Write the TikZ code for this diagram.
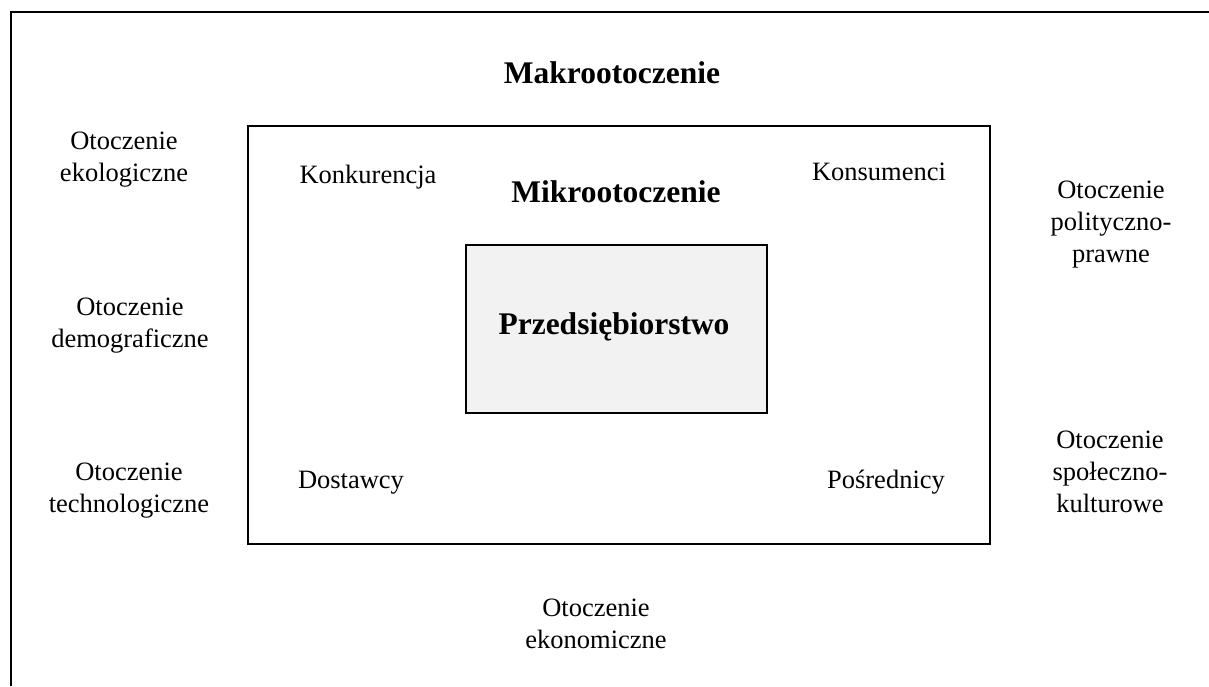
\documentclass[tikz,border=0pt]{standalone}
\usepackage{fontspec}
\setmainfont{Liberation Serif}
\begin{document}
\begin{tikzpicture}[x=1pt,y=-1pt,
  lbl/.style={align=center,inner sep=0pt,font=\fontsize{26.5}{32}\selectfont},
  ttl/.style={inner sep=0pt,font=\fontsize{31.5}{38}\selectfont\bfseries},
  frame/.style={line width=2pt},
  firm/.style={draw,line width=1.6pt,fill=black!5}]
\useasboundingbox (0,0) rectangle (1209,686);
% outer frame (top and left edges)
\coordinate (fa) at (11,686);
\coordinate (fb) at (11,12);
\coordinate (fc) at (1209,12);
\draw[frame] (fa) -- (fb) -- (fc);
% micro-environment box
\node[draw,frame,minimum width=742pt,minimum height=418pt,inner sep=0pt] (micro) at (619,335) {};
% company box
\node[firm,minimum width=301pt,minimum height=168pt,inner sep=0pt] (firm) at (616.5,329) {};
\node[ttl] (firmlbl) at (614,327) {Przedsiębiorstwo};
\node[ttl] (makro) at (612,73) {Makrootoczenie};
\node[ttl] (mikro) at (616,192) {Mikrootoczenie};
% micro-environment actors
\node[lbl] (konk) at (368,177) {Konkurencja};
\node[lbl] (kons) at (879,172) {Konsumenci};
\node[lbl] (dost) at (351,483) {Dostawcy};
\node[lbl] (posr) at (886,482) {Pośrednicy};
% macro-environment factors
\node[lbl] (ekol) at (124,160) {Otoczenie\\ekologiczne};
\node[lbl] (demo) at (130,326) {Otoczenie\\demograficzne};
\node[lbl] (tech) at (129,491) {Otoczenie\\technologiczne};
\node[lbl] (poli) at (1111,225) {Otoczenie\\polityczno-\\prawne};
\node[lbl] (spol) at (1110,472) {Otoczenie\\społeczno-\\kulturowe};
\node[lbl] (ekon) at (596,624) {Otoczenie\\ekonomiczne};
\end{tikzpicture}
\end{document}
